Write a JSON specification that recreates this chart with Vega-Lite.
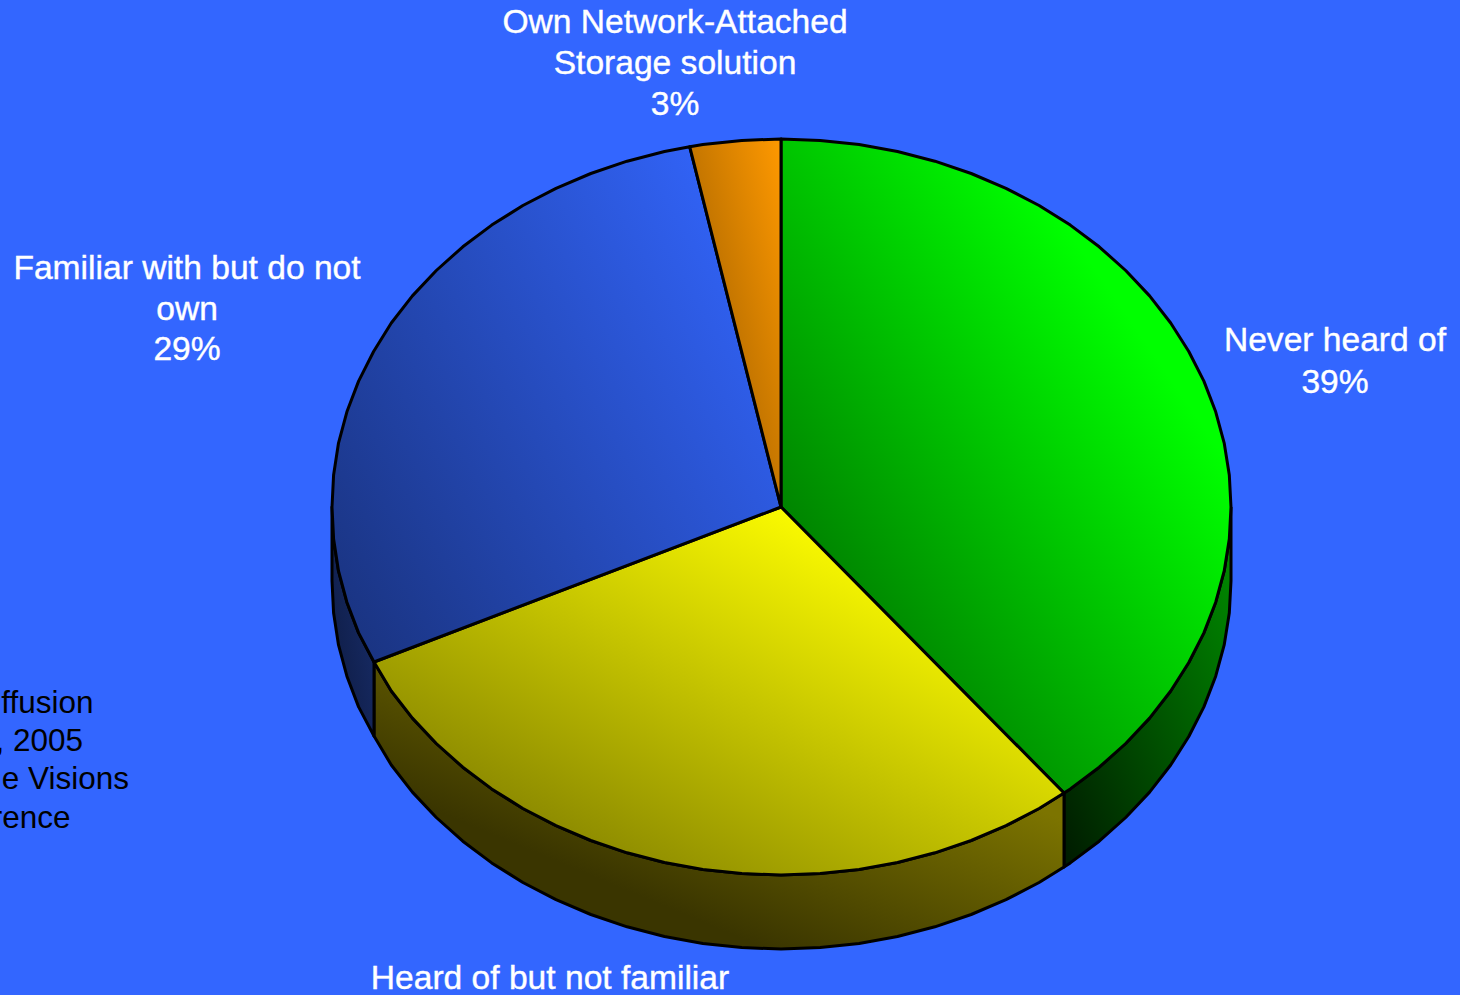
{
"$schema":"https://vega.github.io/schema/vega-lite/v6.json",
"width":1460,"height":995,"padding":0,"autosize":{"type":"none"},
"background":"#3366FF",
"config":{"view":{"stroke":null}},
"datasets":{
"wallNever":[{"i":1,"x":1231,"y":507},{"i":2,"x":1229.3,"y":539.1},{"i":3,"x":1224.2,"y":570.9},{"i":4,"x":1215.7,"y":602.2},{"i":5,"x":1203.9,"y":632.9},{"i":6,"x":1188.8,"y":662.5},{"i":7,"x":1170.7,"y":691},{"i":8,"x":1149.6,"y":718.1},{"i":9,"x":1125.7,"y":743.5},{"i":10,"x":1099.2,"y":767.2},{"i":11,"x":1070.3,"y":788.9},{"i":12,"x":1064,"y":793},{"i":13,"x":1064,"y":867},{"i":14,"x":1070.3,"y":862.9},{"i":15,"x":1099.2,"y":841.2},{"i":16,"x":1125.7,"y":817.5},{"i":17,"x":1149.6,"y":792.1},{"i":18,"x":1170.7,"y":765},{"i":19,"x":1188.8,"y":736.5},{"i":20,"x":1203.9,"y":706.9},{"i":21,"x":1215.7,"y":676.2},{"i":22,"x":1224.2,"y":644.9},{"i":23,"x":1229.3,"y":613.1},{"i":24,"x":1231,"y":581},{"i":25,"x":1231,"y":507}],
"wallHeard":[{"i":1,"x":1064,"y":793},{"i":2,"x":1039.1,"y":808.5},{"i":3,"x":1006,"y":825.7},{"i":4,"x":971.2,"y":840.5},{"i":5,"x":934.9,"y":852.8},{"i":6,"x":897.5,"y":862.5},{"i":7,"x":859.1,"y":869.4},{"i":8,"x":820.2,"y":873.6},{"i":9,"x":781,"y":875},{"i":10,"x":741.8,"y":873.6},{"i":11,"x":702.9,"y":869.4},{"i":12,"x":664.5,"y":862.5},{"i":13,"x":627.1,"y":852.8},{"i":14,"x":590.8,"y":840.5},{"i":15,"x":556,"y":825.7},{"i":16,"x":522.9,"y":808.5},{"i":17,"x":491.7,"y":788.9},{"i":18,"x":462.8,"y":767.2},{"i":19,"x":436.3,"y":743.5},{"i":20,"x":412.4,"y":718.1},{"i":21,"x":391.3,"y":691},{"i":22,"x":374,"y":662},{"i":23,"x":374,"y":736},{"i":24,"x":391.3,"y":765},{"i":25,"x":412.4,"y":792.1},{"i":26,"x":436.3,"y":817.5},{"i":27,"x":462.8,"y":841.2},{"i":28,"x":491.7,"y":862.9},{"i":29,"x":522.9,"y":882.5},{"i":30,"x":556,"y":899.7},{"i":31,"x":590.8,"y":914.5},{"i":32,"x":627.1,"y":926.8},{"i":33,"x":664.5,"y":936.5},{"i":34,"x":702.9,"y":943.4},{"i":35,"x":741.8,"y":947.6},{"i":36,"x":781,"y":949},{"i":37,"x":820.2,"y":947.6},{"i":38,"x":859.1,"y":943.4},{"i":39,"x":897.5,"y":936.5},{"i":40,"x":934.9,"y":926.8},{"i":41,"x":971.2,"y":914.5},{"i":42,"x":1006,"y":899.7},{"i":43,"x":1039.1,"y":882.5},{"i":44,"x":1064,"y":867},{"i":45,"x":1064,"y":793}],
"wallFamiliar":[{"i":1,"x":374,"y":662},{"i":2,"x":358.6,"y":632.9},{"i":3,"x":346.9,"y":602.2},{"i":4,"x":338.5,"y":570.9},{"i":5,"x":333.6,"y":539.1},{"i":6,"x":332,"y":507},{"i":7,"x":332,"y":581},{"i":8,"x":333.6,"y":613.1},{"i":9,"x":338.5,"y":644.9},{"i":10,"x":346.9,"y":676.2},{"i":11,"x":358.6,"y":706.9},{"i":12,"x":374,"y":736},{"i":13,"x":374,"y":662}],
"topNever":[{"i":0,"x":781,"y":507},{"i":1,"x":781,"y":139},{"i":2,"x":820.2,"y":140.4},{"i":3,"x":859.1,"y":144.6},{"i":4,"x":897.5,"y":151.5},{"i":5,"x":934.9,"y":161.2},{"i":6,"x":971.2,"y":173.5},{"i":7,"x":1006,"y":188.3},{"i":8,"x":1039.1,"y":205.5},{"i":9,"x":1070.3,"y":225.1},{"i":10,"x":1099.2,"y":246.8},{"i":11,"x":1125.7,"y":270.5},{"i":12,"x":1149.6,"y":295.9},{"i":13,"x":1170.7,"y":323},{"i":14,"x":1188.8,"y":351.5},{"i":15,"x":1203.9,"y":381.1},{"i":16,"x":1215.7,"y":411.8},{"i":17,"x":1224.2,"y":443.1},{"i":18,"x":1229.3,"y":474.9},{"i":19,"x":1231,"y":507},{"i":20,"x":1229.3,"y":539.1},{"i":21,"x":1224.2,"y":570.9},{"i":22,"x":1215.7,"y":602.2},{"i":23,"x":1203.9,"y":632.9},{"i":24,"x":1188.8,"y":662.5},{"i":25,"x":1170.7,"y":691},{"i":26,"x":1149.6,"y":718.1},{"i":27,"x":1125.7,"y":743.5},{"i":28,"x":1099.2,"y":767.2},{"i":29,"x":1070.3,"y":788.9},{"i":30,"x":1064,"y":793},{"i":31,"x":781,"y":507}],
"topHeard":[{"i":0,"x":781,"y":507},{"i":1,"x":1064,"y":793},{"i":2,"x":1039.1,"y":808.5},{"i":3,"x":1006,"y":825.7},{"i":4,"x":971.2,"y":840.5},{"i":5,"x":934.9,"y":852.8},{"i":6,"x":897.5,"y":862.5},{"i":7,"x":859.1,"y":869.4},{"i":8,"x":820.2,"y":873.6},{"i":9,"x":781,"y":875},{"i":10,"x":741.8,"y":873.6},{"i":11,"x":702.9,"y":869.4},{"i":12,"x":664.5,"y":862.5},{"i":13,"x":627.1,"y":852.8},{"i":14,"x":590.8,"y":840.5},{"i":15,"x":556,"y":825.7},{"i":16,"x":522.9,"y":808.5},{"i":17,"x":491.7,"y":788.9},{"i":18,"x":462.8,"y":767.2},{"i":19,"x":436.3,"y":743.5},{"i":20,"x":412.4,"y":718.1},{"i":21,"x":391.3,"y":691},{"i":22,"x":374,"y":662},{"i":23,"x":781,"y":507}],
"topFamiliar":[{"i":0,"x":781,"y":507},{"i":1,"x":374,"y":662},{"i":2,"x":358.6,"y":632.9},{"i":3,"x":346.9,"y":602.2},{"i":4,"x":338.5,"y":570.9},{"i":5,"x":333.6,"y":539.1},{"i":6,"x":332,"y":507},{"i":7,"x":333.6,"y":474.9},{"i":8,"x":338.5,"y":443.1},{"i":9,"x":346.9,"y":411.8},{"i":10,"x":358.6,"y":381.1},{"i":11,"x":373.6,"y":351.5},{"i":12,"x":391.3,"y":323},{"i":13,"x":412.4,"y":295.9},{"i":14,"x":436.3,"y":270.5},{"i":15,"x":462.8,"y":246.8},{"i":16,"x":491.7,"y":225.1},{"i":17,"x":522.9,"y":205.5},{"i":18,"x":556,"y":188.3},{"i":19,"x":590.8,"y":173.5},{"i":20,"x":627.1,"y":161.2},{"i":21,"x":664.5,"y":151.5},{"i":22,"x":689.7,"y":146.7},{"i":23,"x":781,"y":507}],
"topOwn":[{"i":0,"x":781,"y":507},{"i":1,"x":689.7,"y":146.7},{"i":2,"x":702.9,"y":144.6},{"i":3,"x":741.8,"y":140.4},{"i":4,"x":781,"y":139},{"i":5,"x":781,"y":507}],
"whiteLabels":[
{"x":675,"y":22.5,"text":"Own Network-Attached"},
{"x":675,"y":63.5,"text":"Storage solution"},
{"x":675,"y":104.5,"text":"3%"},
{"x":1335,"y":340.5,"text":"Never heard of"},
{"x":1335,"y":382.5,"text":"39%"},
{"x":187,"y":268.5,"text":"Familiar with but do not"},
{"x":187,"y":309.5,"text":"own"},
{"x":187,"y":349.5,"text":"29%"},
{"x":550,"y":978.5,"text":"Heard of but not familiar"}
],
"sourceNote":[
{"x":93.5,"y":703.5,"text":"ffusion"},
{"x":83,"y":741.5,"text":", 2005"},
{"x":129,"y":779.5,"text":"e Visions"},
{"x":70.5,"y":818.5,"text":"rence"}
]
},
"encoding":{
"x":{"field":"x","type":"quantitative","scale":{"domain":[0,1460],"nice":false,"zero":false},"axis":null},
"y":{"field":"y","type":"quantitative","scale":{"domain":[995,0],"nice":false,"zero":false},"axis":null}
},
"layer":[
{"data":{"name":"wallNever"},"mark":{"type":"line","stroke":"#000000","strokeWidth":3,"strokeJoin":"round","fill":{"gradient":"linear","x1":1,"y1":0,"x2":0,"y2":1,"stops":[{"offset":0,"color":"#009000"},{"offset":1,"color":"#001A00"}]}},"encoding":{"order":{"field":"i","type":"quantitative"}}},
{"data":{"name":"wallHeard"},"mark":{"type":"line","stroke":"#000000","strokeWidth":3,"strokeJoin":"round","fill":{"gradient":"linear","x1":1,"y1":0.55,"x2":0.56,"y2":0.99,"stops":[{"offset":0,"color":"#7C7400"},{"offset":1,"color":"#3A3500"}]}},"encoding":{"order":{"field":"i","type":"quantitative"}}},
{"data":{"name":"wallFamiliar"},"mark":{"type":"line","stroke":"#000000","strokeWidth":3,"strokeJoin":"round","fill":{"gradient":"linear","x1":1,"y1":0,"x2":0,"y2":1,"stops":[{"offset":0,"color":"#1A3070"},{"offset":1,"color":"#0D1A40"}]}},"encoding":{"order":{"field":"i","type":"quantitative"}}},
{"data":{"name":"topNever"},"mark":{"type":"line","stroke":"#000000","strokeWidth":3,"strokeJoin":"round","fill":{"gradient":"linear","x1":0.75,"y1":0.25,"x2":0.2,"y2":0.8,"stops":[{"offset":0,"color":"#00FF00"},{"offset":1,"color":"#008000"}]}},"encoding":{"order":{"field":"i","type":"quantitative"}}},
{"data":{"name":"topHeard"},"mark":{"type":"line","stroke":"#000000","strokeWidth":3,"strokeJoin":"round","fill":{"gradient":"linear","x1":0.59,"y1":0,"x2":-0.01,"y2":0.6,"stops":[{"offset":0,"color":"#FAFA00"},{"offset":1,"color":"#8E8C00"}]}},"encoding":{"order":{"field":"i","type":"quantitative"}}},
{"data":{"name":"topFamiliar"},"mark":{"type":"line","stroke":"#000000","strokeWidth":3,"strokeJoin":"round","fill":{"gradient":"linear","x1":0.95,"y1":0.05,"x2":-0.18,"y2":0.78,"stops":[{"offset":0,"color":"#3366FF"},{"offset":1,"color":"#183078"}]}},"encoding":{"order":{"field":"i","type":"quantitative"}}},
{"data":{"name":"topOwn"},"mark":{"type":"line","stroke":"#000000","strokeWidth":3,"strokeJoin":"round","fill":{"gradient":"linear","x1":1,"y1":0,"x2":0,"y2":1,"stops":[{"offset":0,"color":"#FF9900"},{"offset":1,"color":"#8C5400"}]}},"encoding":{"order":{"field":"i","type":"quantitative"}}},
{"data":{"name":"whiteLabels"},"mark":{"type":"text","font":"Liberation Sans","fontSize":33.6,"fill":"#FFFFFF","stroke":"#FFFFFF","strokeWidth":0.4,"align":"center","baseline":"middle"},"encoding":{"text":{"field":"text","type":"nominal"}}},
{"data":{"name":"sourceNote"},"mark":{"type":"text","font":"Liberation Sans","fontSize":31.5,"fill":"#000000","align":"right","baseline":"middle"},"encoding":{"text":{"field":"text","type":"nominal"}}}
]
}
